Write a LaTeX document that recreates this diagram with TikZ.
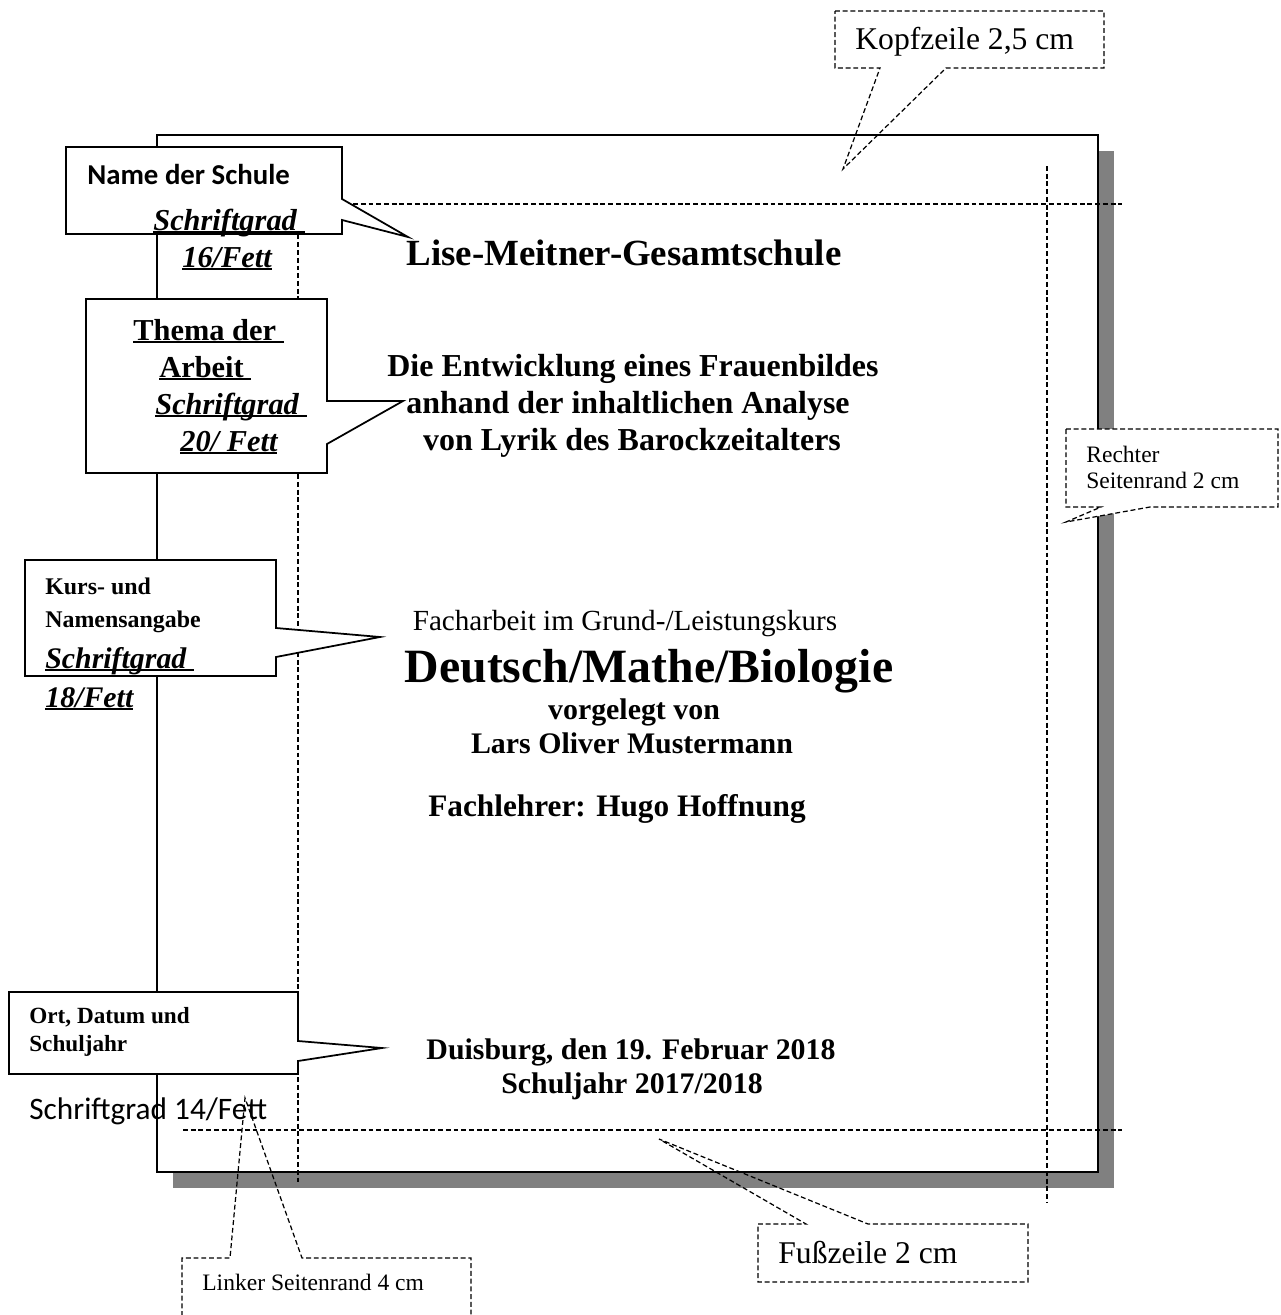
\documentclass[tikz,border=0pt]{standalone}
\usepackage{fontspec}
\setmainfont{Liberation Serif}
\newfontfamily\calibri{Carlito}
\definecolor{schatten}{RGB}{128,128,128}
\newsavebox\unterbox
\newcommand{\unter}[1]{\sbox\unterbox{#1}\rlap{\rule[-.1em]{\wd\unterbox}{.06em}}\usebox\unterbox}
\newcommand{\gr}[1]{\fontsize{#1pt}{#1pt}\selectfont}
\tikzset{
  hilfslinie/.style={dash pattern=on 2.8pt off 1.6pt, line width=0.7pt},
  blase/.style={draw, line width=1pt, fill=white, line join=miter},
  hinweis/.style={dash pattern=on 2.8pt off 1.6pt, line width=0.7pt},
  txt/.style={inner sep=0pt, anchor=base},
  ltxt/.style={inner sep=0pt, anchor=base west}
}
\begin{document}
\begin{tikzpicture}[x=0.02cm, y=-0.02cm]
            \useasboundingbox (0,0) rectangle (1281,1315);
            % Seite mit Schatten
            \fill[schatten] (173,151) rectangle (1114,1188);
            \draw[line width=1.1pt, fill=white] (157,135) rectangle (1098,1172);
            \draw[hilfslinie] (183,204) -- (1122,204);
            \draw[hilfslinie] (183,1130) -- (1122,1130);
            \draw[hilfslinie] (298,165) -- (298,1182);
            \draw[hilfslinie] (1047,166) -- (1047,1203);
            % Text der Seite
            \node[txt] (schule) at (624,265) {\gr{21}\bfseries Lise-Meitner-Gesamtschule};
            \node[txt] (thema1) at (633,376) {\gr{18.2}\bfseries Die Entwicklung eines Frauenbildes};
            \node[txt] (thema2) at (628,413) {\gr{18.2}\bfseries anhand der inhaltlichen Analyse};
            \node[txt] (thema3) at (632,450) {\gr{18.2}\bfseries von Lyrik des Barockzeitalters};
            \node[txt] (kurs) at (625,630) {\gr{16.6}Facharbeit im Grund-/Leistungskurs};
            \node[txt] (fach) at (649,682) {\gr{27.2}\bfseries Deutsch/Mathe/Biologie};
            \node[txt] (vorgelegt) at (634,719) {\gr{17}\bfseries vorgelegt von};
            \node[txt] (name) at (632,753) {\gr{17}\bfseries Lars Oliver Mustermann};
            \node[txt] (lehrer) at (617,816) {\gr{17.8}\bfseries Fachlehrer: Hugo Hoffnung};
            \node[txt] (ort) at (631,1059) {\gr{17}\bfseries Duisburg, den 19. Februar 2018};
            \node[txt] (jahr) at (632,1093) {\gr{17}\bfseries Schuljahr 2017/2018};
            % Sprechblasen links
            \coordinate (spitzeSchule) at (408,237);
            \draw[blase] (66,147) -- (342,147) -- (342,199) -- (spitzeSchule) -- (342,220) -- (342,234) -- (66,234) -- cycle;
            \node[ltxt] (bSchule) at (87,184) {\calibri\gr{16.4}\bfseries Name der Schule};
            \node[ltxt] (bSchule2) at (153,230) {\gr{17.3}\bfseries\itshape\unter{Schriftgrad\ }};
            \node[ltxt] (bSchule3) at (182,267) {\gr{17.3}\bfseries\itshape\unter{16/Fett}};
            \coordinate (spitzeThema) at (403,401);
            \draw[blase] (86,299) -- (327,299) -- (327,401) -- (spitzeThema) -- (327,444) -- (327,473) -- (86,473) -- cycle;
            \node[ltxt] (bThema) at (133,340) {\gr{17.3}\bfseries\unter{Thema der\ }};
            \node[ltxt] (bThema2) at (159,377) {\gr{17.3}\bfseries\unter{Arbeit\ }};
            \node[ltxt] (bThema3) at (155,414) {\gr{17.3}\bfseries\itshape\unter{Schriftgrad\ }};
            \node[ltxt] (bThema4) at (180,451) {\gr{17.3}\bfseries\itshape\unter{20/ Fett}};
            \coordinate (spitzeKurs) at (380,637);
            \draw[blase] (25,560) -- (276,560) -- (276,628) -- (spitzeKurs) -- (276,657) -- (276,676) -- (25,676) -- cycle;
            \node[ltxt] (bKurs) at (45,594) {\gr{13.6}\bfseries Kurs- und};
            \node[ltxt] (bKurs2) at (45,627) {\gr{13.6}\bfseries Namensangabe};
            \node[ltxt] (bKurs3) at (45,668) {\gr{17}\bfseries\itshape\unter{Schriftgrad\ }};
            \node[ltxt] (bKurs4) at (45,707) {\gr{17}\bfseries\itshape\unter{18/Fett}};
            \coordinate (spitzeOrt) at (382,1048);
            \draw[blase] (9,992) -- (298,992) -- (298,1041) -- (spitzeOrt) -- (298,1061) -- (298,1074) -- (9,1074) -- cycle;
            \node[ltxt] (bOrt) at (29,1023) {\gr{13.2}\bfseries Ort, Datum und};
            \node[ltxt] (bOrt2) at (29,1051) {\gr{13.2}\bfseries Schuljahr};
            \node[ltxt] (bOrt3) at (29,1119) {\calibri\gr{17.8}Schriftgrad 14/Fett};
            % Hinweise zu den Raendern
            \coordinate (spitzeKopf) at (843,169);
            \draw[hinweis] (835,11) -- (1104,11) -- (1104,68) -- (946,68) -- (spitzeKopf) -- (880,68) -- (835,68) -- cycle;
            \node[ltxt] (kopf) at (855,50) {\gr{18}Kopfzeile 2,5 cm};
            \coordinate (spitzeRechts) at (1066,522);
            \draw[hinweis, fill=white] (1066,429) -- (1278,429) -- (1278,507) -- (1150,507) -- (spitzeRechts) -- (1101,507) -- (1066,507) -- cycle;
            \node[ltxt] (rechts) at (1086,462) {\gr{13.4}Rechter};
            \node[ltxt] (rechts2) at (1086,488) {\gr{13.4}Seitenrand 2 cm};
            \coordinate (spitzeLinks) at (245,1098);
            \draw[hinweis] (182,1316) -- (182,1258) -- (230,1258) -- (spitzeLinks) -- (302,1258) -- (471,1258) -- (471,1316);
            \node[ltxt] (links) at (202,1290) {\gr{13.4}Linker Seitenrand 4 cm};
            \coordinate (spitzeFuss) at (659,1139);
            \draw[hinweis] (758,1224) -- (806,1224) -- (spitzeFuss) -- (868,1224) -- (1028,1224) -- (1028,1282) -- (758,1282) -- cycle;
            \node[ltxt] (fuss) at (778,1263) {\gr{18}Fußzeile 2 cm};
\end{tikzpicture}
\end{document}
